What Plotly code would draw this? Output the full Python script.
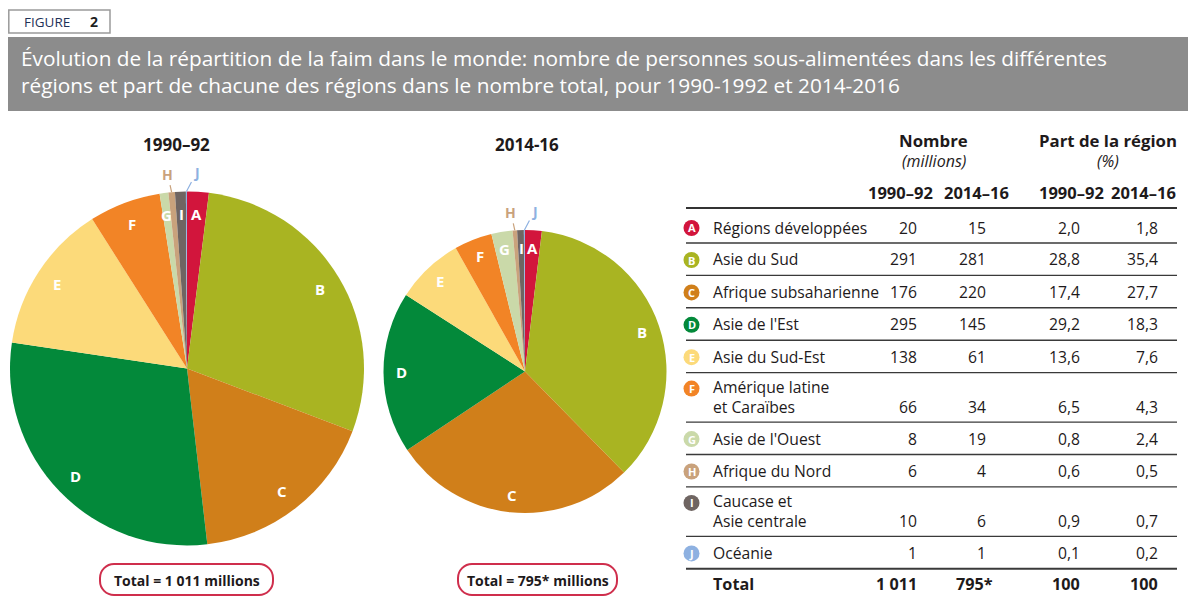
import math
import plotly.graph_objects as go

# page body adds an 8px margin: figure is placed at (8, 8) in the 1196x612 window
OX, OY = 8, 8
W, H = 1196 - OX, 612 - OY

# ---------------- data ----------------
letters = ["A", "B", "C", "D", "E", "F", "G", "H", "I", "J"]
regions = ["Régions développées", "Asie du Sud", "Afrique subsaharienne", "Asie de l'Est",
           "Asie du Sud-Est", "Amérique latine<br>et Caraïbes", "Asie de l'Ouest",
           "Afrique du Nord", "Caucase et<br>Asie centrale", "Océanie"]
n_1990 = [20, 291, 176, 295, 138, 66, 8, 6, 10, 1]
n_2014 = [15, 281, 220, 145, 61, 34, 19, 4, 6, 1]
pct_1990 = ["2,0", "28,8", "17,4", "29,2", "13,6", "6,5", "0,8", "0,6", "0,9", "0,1"]
pct_2014 = ["1,8", "35,4", "27,7", "18,3", "7,6", "4,3", "2,4", "0,5", "0,7", "0,2"]
total_label = "Total"
total_n = ["1 011", "795*"]
total_pct = ["100", "100"]
periods = ["1990–92", "2014-16"]
pie_totals = ["Total = 1 011 millions", "Total = 795* millions"]
col_headers = ["1990–92", "2014–16", "1990–92", "2014–16"]
group_headers = [("Nombre", "(millions)"), ("Part de la région", "(%)")]
title_text = ("Évolution de la répartition de la faim dans le monde: nombre de personnes sous-alimentées dans les différentes"
              "<br>régions et part de chacune des régions dans le nombre total, pour 1990-1992 et 2014-2016")
colors = ["#D2153C", "#A9B422", "#D07F1A", "#03893A", "#FCDA7A",
          "#F28426", "#CAD9A9", "#C9A27C", "#6F6562", "#8EB1E1"]

FONT = "Open Sans"
TXT = "#1E1A1B"


def px(x):
    return (x - OX) / W


def py(y):
    return 1 - (y - OY) / H


fig = go.Figure()
annotations = []
shapes = []


def txt(x, y, t, size, color=TXT, xa="center", ya="middle", align="center"):
    annotations.append(dict(xref="paper", yref="paper", x=px(x), y=py(y), text=t, showarrow=False,
                            xanchor=xa, yanchor=ya, align=align,
                            font=dict(family=FONT, size=size, color=color)))


# ---------------- header ----------------
shapes.append(dict(type="rect", xref="paper", yref="paper", x0=px(8.8), x1=px(110), y0=py(10), y1=py(33),
                   line=dict(color="#9A9A9A", width=1.5), fillcolor="white", layer="below"))
txt(22, 21.5, "FIGURE", 13.5, "#1F3258", "left")
txt(88, 21.5, "<b>2</b>", 14, "#1F1F1F", "left")
shapes.append(dict(type="rect", xref="paper", yref="paper", x0=px(8), x1=px(1196), y0=py(37), y1=py(111),
                   line=dict(width=0), fillcolor="#8C8C8C", layer="below"))
txt(19, 72, title_text, 20.8, "white", "left", "middle", "left")

# ---------------- pies ----------------
centers = [(187, 368.5), (525, 371.5)]
radii = [177, 141.5]
title_x = [176, 527]
box_x = [(100, 273), (458, 617)]
leader_offsets = {"H": (-4, -18), "J": (10, -19)}

for k, vals in enumerate([n_1990, n_2014]):
    cx, cy = centers[k]
    r = radii[k]
    fig.add_trace(go.Pie(values=vals, labels=letters, marker=dict(colors=colors, line=dict(width=0)),
                         sort=False, direction="clockwise", rotation=0, textinfo="none",
                         hoverinfo="label+value", showlegend=False,
                         domain=dict(x=[px(cx - r), px(cx + r)], y=[py(cy + r), py(cy - r)])))
    total = sum(vals)
    cum = 0
    for L, v, c in zip(letters, vals, colors):
        a = 2 * math.pi * (cum + v / 2) / total
        cum += v
        if L in leader_offsets:
            ex, ey = cx + r * math.sin(a), cy - r * math.cos(a)
            ox, oy = leader_offsets[L]
            annotations.append(dict(xref="paper", yref="paper", x=px(ex), y=py(ey), ax=ox, ay=oy,
                                    text="<b>%s</b>" % L, showarrow=True, arrowhead=0, arrowwidth=1.2,
                                    arrowcolor=c, standoff=0,
                                    font=dict(family=FONT, size=14, color=c)))
        else:
            lx, ly = cx + 0.875 * r * math.sin(a), cy - 0.875 * r * math.cos(a)
            txt(lx, ly, "<b>%s</b>" % L, 15, "white")
    txt(title_x[k], 144, "<b>%s</b>" % periods[k], 17)
    # rounded total box
    x0, x1 = box_x[k]
    y0, y1 = 564, 595
    rr = 14
    path = ("M {a},{b} L {c},{b} C {d},{b} {e},{f} {e},{g} L {e},{h} C {e},{i} {d},{j} {c},{j} "
            "L {a},{j} C {k},{j} {l},{i} {l},{h} L {l},{g} C {l},{f} {k},{b} {a},{b} Z").format(
        a=px(x0 + rr), b=py(y0), c=px(x1 - rr), d=px(x1 - rr * 0.45), e=px(x1), f=py(y0 + rr * 0.45),
        g=py(y0 + rr), h=py(y1 - rr), i=py(y1 - rr * 0.45), j=py(y1), k=px(x0 + rr * 0.45), l=px(x0))
    shapes.append(dict(type="path", xref="paper", yref="paper", path=path,
                       line=dict(color="#CF2E4C", width=2), fillcolor="white"))
    txt((x0 + x1) / 2, 580, "<b>%s</b>" % pie_totals[k], 14)

# ---------------- table ----------------
group_x = [934, 1108]
for (g1, g2), gx in zip(group_headers, group_x):
    txt(gx, 140, "<b>%s</b>" % g1, 16.8)
    txt(gx, 161, "<i>%s</i>" % g2, 16)
for h, hx in zip(col_headers, [900, 976, 1071, 1143]):
    txt(hx, 192, "<b>%s</b>" % h, 16.5)

LX0, LX1 = 686, 1177
num_right = [919, 988, 1082, 1160]
shapes.append(dict(type="line", xref="paper", yref="paper", x0=px(LX0), x1=px(LX1), y0=py(208), y1=py(208),
                   line=dict(color="#333333", width=2)))

row_top = 211
FS = 15.7
for i in range(len(letters)):
    nlines = regions[i].count("<br>") + 1
    h = 32.4 if nlines == 1 else 49.5
    if i == 0:
        top = 211
        h = 32
    else:
        top = row_top
    first_y = top + 16.5 if nlines == 1 else top + 15.5
    ccx, ccy, cr = 691.5, first_y + 0.5, 8
    shapes.append(dict(type="circle", xref="paper", yref="paper", x0=px(ccx - cr), x1=px(ccx + cr),
                       y0=py(ccy + cr), y1=py(ccy - cr), line=dict(width=0), fillcolor=colors[i]))
    txt(ccx, ccy, "<b>%s</b>" % letters[i], 11, "white")
    if nlines == 1:
        txt(711, first_y, regions[i], FS, TXT, "left")
        last_y = first_y
    else:
        txt(711, top + h / 2 - 0.5, regions[i], FS, TXT, "left", "middle", "left")
        last_y = top + 34
    for v, xr in zip([str(n_1990[i]), str(n_2014[i]), pct_1990[i], pct_2014[i]], num_right):
        txt(xr, last_y, v, FS, TXT, "right")
    row_top = top + h
    lw = 2 if i == len(letters) - 1 else 1.4
    shapes.append(dict(type="line", xref="paper", yref="paper", x0=px(LX0), x1=px(LX1),
                       y0=py(row_top), y1=py(row_top), line=dict(color="#3A3A3A", width=lw)))

ty = row_top + 15.5
txt(711, ty, "<b>%s</b>" % total_label, FS + 0.5, TXT, "left")
for v, xr in zip(total_n + total_pct, [919, 995, 1082, 1160]):
    txt(xr, ty, "<b>%s</b>" % v, FS + 0.5, TXT, "right")

fig.update_layout(width=W, height=H, margin=dict(l=0, r=0, t=0, b=0), paper_bgcolor="white",
                  plot_bgcolor="white", showlegend=False, annotations=annotations, shapes=shapes,
                  font=dict(family=FONT, color=TXT))
fig.write_html("out.html")
